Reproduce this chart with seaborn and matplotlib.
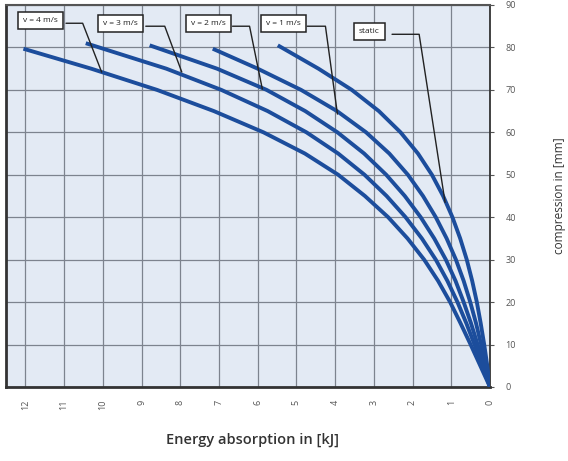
import numpy as np
import pandas as pd
import seaborn as sns
import matplotlib.pyplot as plt

# compression steps (mm) shared by all curves
comp = [0, 5, 10, 15, 20, 25, 30, 35, 40, 45, 50, 55, 60, 65, 70, 75]
# energy absorption (kJ)
e_static = [0, 0.07, 0.15, 0.24, 0.34, 0.46, 0.6, 0.77, 0.97, 1.21, 1.5, 1.86, 2.31, 2.87, 3.57, 4.43]
e_v1 = [0, 0.11, 0.23, 0.36, 0.51, 0.68, 0.88, 1.12, 1.4, 1.73, 2.12, 2.6, 3.2, 3.95, 4.88, 6.0]
e_v2 = [0, 0.16, 0.32, 0.49, 0.68, 0.89, 1.14, 1.44, 1.79, 2.2, 2.68, 3.25, 3.94, 4.77, 5.77, 7.05]
e_v3 = [0, 0.2, 0.4, 0.61, 0.84, 1.1, 1.4, 1.76, 2.18, 2.67, 3.24, 3.92, 4.74, 5.74, 6.94, 8.36]
e_v4 = [0, 0.25, 0.5, 0.76, 1.03, 1.34, 1.7, 2.13, 2.63, 3.23, 3.92, 4.78, 5.85, 7.13, 8.6, 10.3]
# end point of each curve (top)
names = ["static", "v = 1 m/s", "v = 2 m/s", "v = 3 m/s", "v = 4 m/s"]
top_comp = [80.5, 79.7, 80.5, 81.0, 79.7]
top_energy = [5.48, 7.16, 8.79, 10.44, 12.05]

x_ticks = list(range(0, 13))
y_ticks = list(range(0, 91, 10))

rows = []
for name, e, tc, te in zip(names, [e_static, e_v1, e_v2, e_v3, e_v4], top_comp, top_energy):
    for c, v in zip(comp + [tc], e + [te]):
        rows.append({"curve": name, "energy": v, "compression": c})
df = pd.DataFrame(rows)

# label boxes: (box x, box y, box right x, elbow x, leader end x, leader end y)
labels = {
    "v = 4 m/s": (11.62, 86.3, 10.95, 10.52, 10.03, 74.2),
    "v = 3 m/s": (9.54, 85.6, 8.89, 8.40, 7.96, 74.2),
    "v = 2 m/s": (7.27, 85.6, 6.65, 6.21, 5.88, 70.2),
    "v = 1 m/s": (5.34, 85.6, 4.72, 4.25, 3.94, 64.3),
    "static": (3.12, 83.7, 2.53, 1.83, 1.16, 43.5),
}

sns.set_style("white")
plt.rcParams['font.family'] = ['Open Sans', 'DejaVu Sans']

fig = plt.figure(figsize=(5.68, 4.61), dpi=100)
ax = fig.add_axes([6 / 568, 1 - 387 / 461, 484 / 568, 382 / 461])
ax.set_facecolor('#e3eaf4')

sns.lineplot(data=df, x="energy", y="compression", hue="curve",
             palette=["#1c4d9c"] * 5, sort=False, estimator=None,
             legend=False, linewidth=2.8, ax=ax, zorder=3,
             solid_joinstyle='round', solid_capstyle='butt')

ax.set_xlim(12.5, 0)
ax.set_ylim(0, 90)
ax.set_xticks(x_ticks)
ax.set_yticks(y_ticks)
ax.grid(True, color='#7d838e', linewidth=0.9)
ax.set_axisbelow(True)

for name, (bx, by, br, ex, lx, ly) in labels.items():
    ax.plot([br, ex, lx], [by - 0.6, by - 0.6, ly], color='#222222',
            linewidth=1.0, zorder=4)
    ax.text(bx, by, name, ha='center', va='center', fontsize=6, color='#222222',
            zorder=5, bbox=dict(boxstyle='square,pad=0.6', facecolor='white',
                                edgecolor='#222222', linewidth=1.1))

ax.yaxis.tick_right()
ax.tick_params(axis='y', direction='out', length=3, width=0.8, pad=8,
               labelsize=6.5, labelcolor='#555555', color='#555555')
ax.tick_params(axis='x', length=0, pad=9, labelsize=6.5, labelcolor='#555555',
               labelrotation=90)
ax.set_xlabel("")
ax.set_ylabel("")

for side in ['left', 'bottom']:
    ax.spines[side].set_color('#333333')
    ax.spines[side].set_linewidth(2.0)
ax.spines['right'].set_color('#333333')
ax.spines['right'].set_linewidth(1.3)
ax.spines['top'].set_color('#555555')
ax.spines['top'].set_linewidth(1.5)

fig.text(252 / 568, 1 - 440 / 461, "Energy absorption in [kJ]", ha='center',
         va='center', fontsize=10.5, fontweight='semibold', color='#333333')
fig.text(560 / 568, 1 - 196 / 461, "compression in [mm]", ha='center',
         va='center', rotation=90, fontsize=8.5, color='#333333')

fig.savefig("out.png", dpi=100)
